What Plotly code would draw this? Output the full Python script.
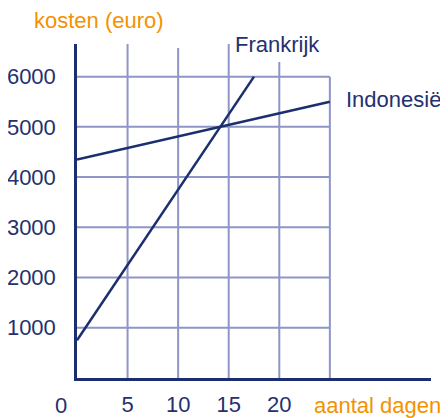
import plotly.graph_objects as go

# Data
frank_x = [0, 17.5]
frank_y = [750, 6000]
indo_x = [0, 25]
indo_y = [4350, 5500]
x_ticks = [5, 10, 15, 20]
y_ticks = [1000, 2000, 3000, 4000, 5000, 6000]
grid_x = [5, 10, 15, 20, 25]
grid_y = [1000, 2000, 3000, 4000, 5000, 6000]

NAVY = "#1b2f6e"
TEXT = "#25306e"
GRID = "#8f95c6"
ORANGE = "#f39200"
FONT = "Liberation Sans, Arial, sans-serif"

fig = go.Figure()
fig.add_trace(go.Scatter(x=frank_x, y=frank_y, mode="lines",
                         line=dict(color=NAVY, width=2.5), hoverinfo="skip"))
fig.add_trace(go.Scatter(x=indo_x, y=indo_y, mode="lines",
                         line=dict(color=NAVY, width=2.5), hoverinfo="skip"))

shapes = []
for gy in grid_y:
    shapes.append(dict(type="line", xref="x", yref="y", x0=0, x1=25, y0=gy, y1=gy,
                       line=dict(color=GRID, width=2), layer="below"))
vtops = {5: 6650, 10: 6570, 15: 6790, 20: 6290, 25: 6000}
for gx in grid_x:
    shapes.append(dict(type="line", xref="x", yref="y", x0=gx, x1=gx, y0=0, y1=vtops[gx],
                       line=dict(color=GRID, width=2), layer="below"))

annotations = [
    dict(x=15.4, y=6633, xref="x", yref="y", text="Frankrijk", showarrow=False,
         xanchor="left", yanchor="middle", font=dict(family=FONT, size=22, color=TEXT)),
    dict(x=26.4, y=5540, xref="x", yref="y", text="Indonesië", showarrow=False,
         xanchor="left", yanchor="middle", font=dict(family=FONT, size=22, color=TEXT)),
    dict(x=-0.127, y=1.069, xref="paper", yref="paper", text="kosten (euro)", showarrow=False,
         xanchor="left", yanchor="middle", font=dict(family=FONT, size=22, color=ORANGE)),
    dict(x=1.034, y=-0.081, xref="paper", yref="paper", text="aantal dagen", showarrow=False,
         xanchor="right", yanchor="middle", font=dict(family=FONT, size=22, color=ORANGE)),
    dict(x=0, y=0, xref="x", yref="y", text="0", showarrow=False,
         xanchor="center", yanchor="middle", xshift=-16, yshift=-27,
         font=dict(family=FONT, size=22, color=TEXT)),
]

fig.update_layout(
    width=440, height=410,
    margin=dict(l=69, r=17, t=36, b=40),
    paper_bgcolor="white", plot_bgcolor="white",
    showlegend=False,
    shapes=shapes, annotations=annotations,
    xaxis=dict(range=[0, 35], tickvals=x_ticks, showgrid=False, zeroline=False,
               showline=True, linecolor=NAVY, linewidth=2.5, ticks="", automargin=False,
               tickfont=dict(family=FONT, size=22, color=TEXT), ticklabelstandoff=5),
    yaxis=dict(range=[0, 6650], tickvals=y_ticks, showgrid=False, zeroline=False,
               showline=True, linecolor=NAVY, linewidth=2.5, ticks="", automargin=False,
               tickfont=dict(family=FONT, size=22, color=TEXT), ticklabelstandoff=14),
)

fig.write_html("out.html")
